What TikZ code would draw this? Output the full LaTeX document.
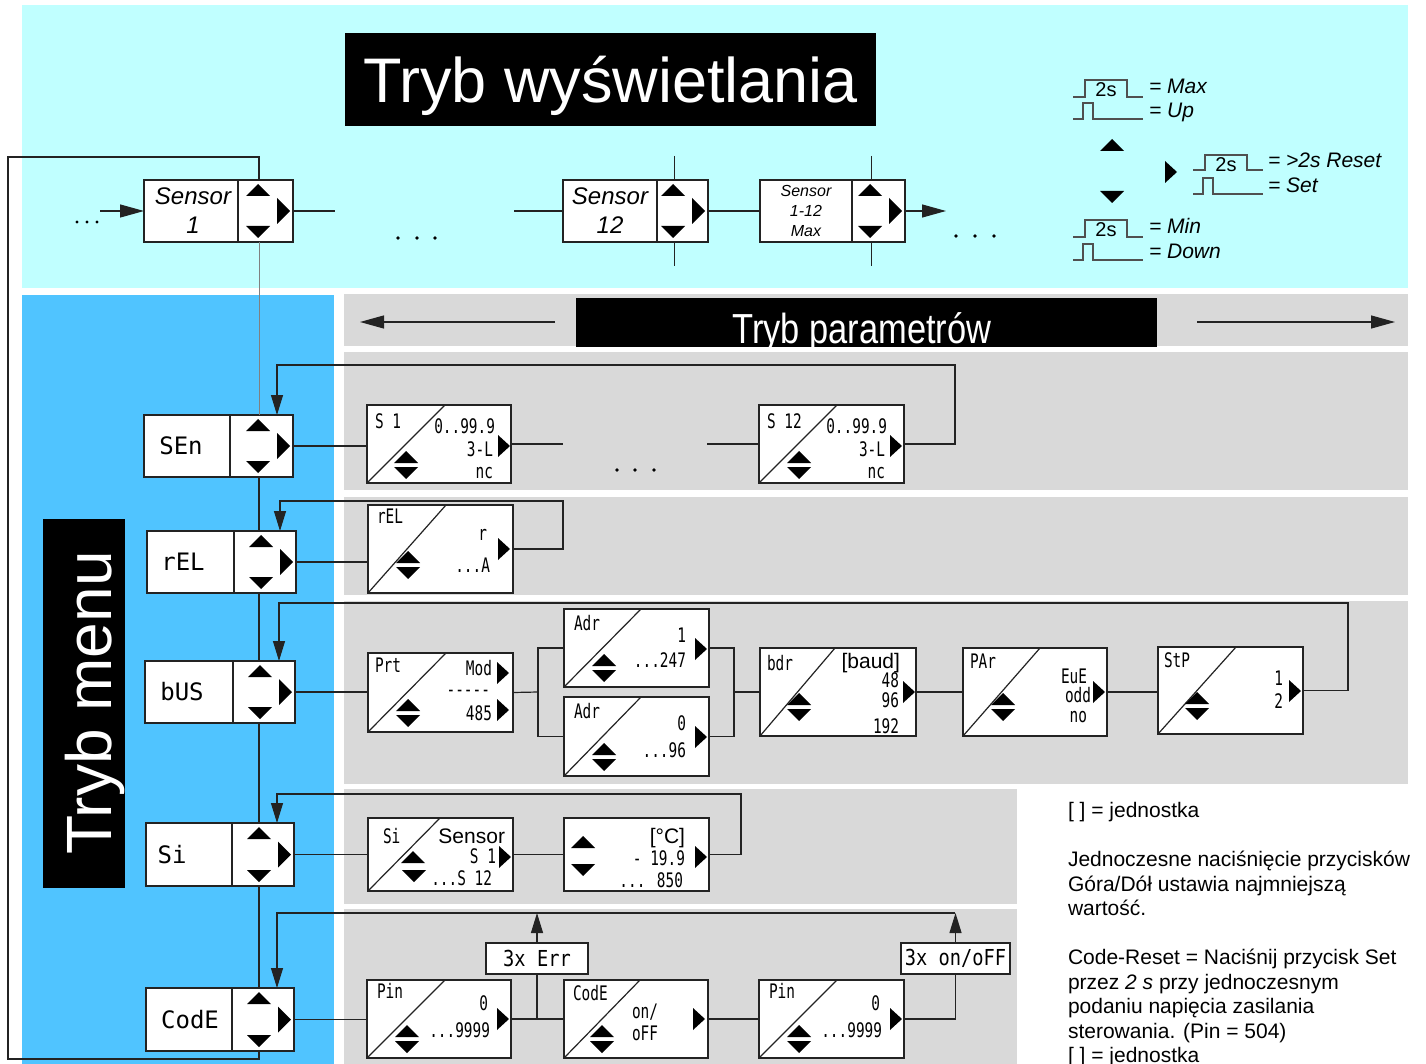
\documentclass[tikz,border=0pt]{standalone}
\usepackage{fontspec}
\setmainfont{Liberation Sans}
\newfontfamily\segf{DejaVu Sans Mono}
\usetikzlibrary{arrows.meta}
\definecolor{cyanbg}{RGB}{192,255,255}
\definecolor{bluebg}{RGB}{80,196,255}
\definecolor{graybg}{RGB}{217,217,217}
\definecolor{lnc}{RGB}{35,35,35}
\definecolor{wavec}{RGB}{80,80,80}
\newcommand\fs[1]{\fontsize{#1}{#1}\selectfont}
\newcommand\sg[2][20]{\scalebox{0.72}[1]{\segf\fontsize{#1}{#1}\selectfont #2}}
\tikzset{
 ln/.style={draw=lnc, line width=1.2pt},
 arr/.style={ln, -{Triangle[length=20pt,width=12pt]}},
 arrT/.style={ln, -{Triangle[length=24pt,width=13pt]}},
 boxs/.style={draw=lnc, fill=white, line width=1.5pt, inner sep=0pt, outer sep=0pt},
 seg/.style={inner sep=0pt, outer sep=0pt},
 wave/.style={draw=wavec, line width=1.2pt},
}
\newcommand\Tup[2]{\fill[black] ({#1-12},{#2+12}) -- ({#1+12},{#2+12}) -- ({#1},{#2}) -- cycle;}
\newcommand\Tdn[2]{\fill[black] ({#1-12},{#2-12}) -- ({#1+12},{#2-12}) -- ({#1},{#2}) -- cycle;}
\newcommand\Trt[2]{\fill[black] ({#1-13},{#2-13}) -- ({#1-13},{#2+13}) -- ({#1},{#2}) -- cycle;}
\newcommand\Trs[2]{\fill[black] ({#1-12},{#2-11}) -- ({#1-12},{#2+11}) -- ({#1},{#2}) -- cycle;}
\newcommand\Tud[2]{\fill[black] ({#1-12},{#2-2}) -- ({#1+12},{#2-2}) -- ({#1},{#2-14}) -- cycle;
 \fill[black] ({#1-12},{#2+2}) -- ({#1+12},{#2+2}) -- ({#1},{#2+14}) -- cycle;}
\newcommand\MenuBx[9]{%
 \node[boxs, anchor=north west, minimum width={(#4-#2)*1pt}, minimum height={(#5-#3)*1pt}] (#1) at (#2,#3) {};
 \draw[draw=lnc, line width=1.3pt] (#6,#3) -- (#6,#5);
 \Tup{#4-35}{#3+4}
 \Tdn{#4-35}{#5-4}
 \Trt{#4-3}{(#3+#5)/2}
 \node[seg, align=center, font=#8] (#1-l) at (#7,{(#3+#5)/2}) {#9};
}
\newcommand\ParBx[6]{%
 \node[boxs, anchor=north west, minimum width={(#4-#2)*1pt}, minimum height={(#5-#3)*1pt}] (#1) at (#2,#3) {};
 \ifnum#6>0 \draw[draw=lnc, line width=1.2pt] (#2,#5) -- (#6,#3);\fi
}
\newcommand\Tx[5]{\node[seg, anchor=#2] (#1) at (#3,#4) {#5};}
\newcommand\WL[3]{\draw[wave] (#1,#2) -- ({#1+12},#2) -- ({#1+12},#3) -- ({#1+54},#3) -- ({#1+54},#2) -- ({#1+70},#2);}
\newcommand\WS[3]{\draw[wave] (#1,#2) -- ({#1+10},#2) -- ({#1+10},#3) -- ({#1+20},#3) -- ({#1+20},#2) -- ({#1+70},#2);}

\begin{document}
\begin{tikzpicture}[x=1pt,y=-1pt]
\useasboundingbox (0,0) rectangle (1426,1064);
\fill[white] (0,0) rectangle (1426,1064);
% backgrounds
\fill[cyanbg] (22,5) rectangle (1408,288);
\fill[bluebg] (22,295) rectangle (334,1064);
\fill[graybg] (344,294) rectangle (1408,346);
\fill[graybg] (344,352) rectangle (1408,490);
\fill[graybg] (344,497) rectangle (1408,595);
\fill[graybg] (344,601) rectangle (1408,784);
\fill[graybg] (344,789) rectangle (1017,904);
\fill[graybg] (344,909) rectangle (1017,1064);

% titles
\node[fill=black, text=white, anchor=north west, minimum width=531pt, minimum height=93pt, inner sep=0pt, text height=45pt, text depth=0pt, font=\fs{63}] (title) at (345,33) {Tryb wyświetlania};
\node[fill=black, anchor=north west, minimum width=82pt, minimum height=369pt, inner sep=0pt] (tmbox) at (43,519) {};
\node[text=white, rotate=90, anchor=base, font=\fs{64}, inner sep=0pt] (tm) at (111,703) {Tryb menu};
\node[fill=black, anchor=north west, minimum width=581pt, minimum height=49pt, inner sep=0pt] (tpbox) at (576,298) {};
\begin{scope}
\clip (576,298) rectangle (1157,347);
\node[seg, anchor=base, text=white] (tp) at (862,343) {\scalebox{0.82}[1]{\fs{42}Tryb parametrów}};
\end{scope}
\coordinate (la1) at (555,322); \coordinate (la2) at (360,322);
\draw[arrT] (la1) -- (la2);
\coordinate (ra1) at (1197,322); \coordinate (ra2) at (1395,322);
\draw[arrT] (ra1) -- (ra2);

% vertical navigation lines through top boxes
\coordinate (v1a) at (674,156); \coordinate (v1b) at (674,266);
\coordinate (v2a) at (871,156); \coordinate (v2b) at (871,266);
\draw[ln, line width=1pt] (v1a) -- (v1b);
\draw[ln, line width=1pt] (v2a) -- (v2b);

% top row boxes
\MenuBx{s1top}{144}{180}{293}{242}{238}{193}{\itshape\fontsize{24}{29}\selectfont}{Sensor\\1}
\MenuBx{s12top}{563}{180}{708}{242}{657}{610}{\itshape\fontsize{24}{29}\selectfont}{Sensor\\12}
\MenuBx{smax}{760}{180}{905}{242}{852}{806}{\itshape\fontsize{16}{20}\selectfont}{Sensor\\1-12\\Max}

\coordinate (in0) at (100,211);
\draw[arrT] (in0) -- (s1top.west);
\coordinate (o1) at (335,211);
\draw[ln] (s1top.east) -- (o1);
\coordinate (o2) at (514,211);
\draw[ln] (o2) -- (s12top.west);
\draw[ln] (s12top.east) -- (smax.west);
\coordinate (o3) at (946,211);
\draw[arrT] (smax.east) -- (o3);
\foreach \x in {77,87,97} \fill (\x,222) circle (1.7);
\foreach \x in {398,417,435} \fill (\x,238) circle (1.8);
\foreach \x in {956,975,994} \fill (\x,236) circle (1.8);

% legend
\WL{1073}{97}{80}
\node[seg, font=\fs{20}] (lg1) at (1106,90) {2s};
\WS{1073}{119}{103}
\Tx{lt1}{base west}{1149}{94}{\itshape\fs{21}= Max}
\Tx{lt2}{base west}{1149}{118}{\itshape\fs{21}= Up}
\Tup{1112}{139}
\Tdn{1112}{203}
\Trs{1177}{172}
\WL{1193}{170}{155}
\node[seg, font=\fs{20}] (lg2) at (1226,165) {2s};
\WS{1193}{194}{178}
\Tx{lt3}{base west}{1268}{168}{\itshape\fs{21}= >2s Reset}
\Tx{lt4}{base west}{1268}{193}{\itshape\fs{21}= Set}
\WL{1073}{237}{220}
\node[seg, font=\fs{20}] (lg3) at (1106,230) {2s};
\WS{1073}{260}{244}
\Tx{lt5}{base west}{1149}{234}{\itshape\fs{21}= Min}
\Tx{lt6}{base west}{1149}{259}{\itshape\fs{21}= Down}

% menu boxes
\MenuBx{sen}{144}{415}{293}{477}{230}{181}{\segf\fs{24}}{SEn}
\MenuBx{rel}{147}{531}{296}{593}{234}{183}{\segf\fs{24}}{rEL}
\MenuBx{bus}{145}{661}{295}{723}{233}{182}{\segf\fs{24}}{bUS}
\MenuBx{si}{146}{823}{294}{886}{232}{172}{\segf\fs{24}}{Si}
\MenuBx{code}{146}{988}{294}{1051}{232}{190}{\segf\fs{24}}{CodE}

% spine and outer loop
\coordinate (spx) at (259,0);
\draw[draw=gray, line width=0.9pt] (s1top.south -| spx) -- (sen.north -| spx);
\draw[ln] (sen.south -| spx) -- (rel.north -| spx);
\draw[ln] (rel.south -| spx) -- (bus.north -| spx);
\draw[ln] (bus.south -| spx) -- (si.north -| spx);
\draw[ln] (si.south -| spx) -- (code.north -| spx);
\coordinate (lp1) at (8,1059); \coordinate (lp2) at (8,157);
\draw[ln] (code.south -| spx) -- (lp1 -| spx) -- (lp1) -- (lp2) -- (lp2 -| spx) -- (s1top.north -| spx);

% parameter boxes
\ParBx{ps1}{367}{405}{511}{483}{445}
\ParBx{ps12}{759}{405}{904}{483}{837}
\ParBx{prel}{368}{505}{513}{593}{446}
\ParBx{pprt}{368}{653}{513}{732}{446}
\ParBx{padra}{564}{609}{709}{687}{641}
\ParBx{padrb}{564}{697}{709}{776}{641}
\ParBx{pbdr}{760}{648}{916}{736}{835}
\ParBx{ppar}{963}{648}{1107}{736}{1040}
\ParBx{pstp}{1158}{647}{1303}{734}{1236}
\ParBx{psi}{368}{818}{513}{891}{440}
\ParBx{pc}{564}{818}{709}{891}{0}
\ParBx{ppina}{367}{980}{511}{1058}{445}
\ParBx{pcode}{564}{980}{708}{1058}{640}
\ParBx{ppinb}{759}{980}{904}{1058}{837}
\node[boxs, line width=1.2pt, minimum width=102pt, minimum height=31pt] (berr) at (537,958.5) {\scalebox{0.85}[1]{\segf\fs{22}3x Err}};
\node[boxs, line width=1.2pt, minimum width=109pt, minimum height=31pt] (bonoff) at (955.5,958.5) {\scalebox{0.85}[1]{\segf\fs{22}3x on/oFF}};

% row connectors
\draw[ln] (sen.east) -- (sen.east -| ps1.west);
\coordinate (d1) at (563,444); \draw[ln] (ps1.east) -- (d1);
\coordinate (d2) at (707,444); \draw[ln] (d2) -- (ps12.west);
\foreach \x in {617,635,654} \fill (\x,470) circle (1.8);
\draw[ln] (rel.east) -- (rel.east -| prel.west);
\draw[ln] (bus.east) -- (bus.east -| pprt.west);
\coordinate (j1) at (538,692);
\draw[ln] (pprt.east) -- (j1);
\draw[ln] (padra.west) -| (j1) |- (padrb.west);
\coordinate (j2) at (734,692);
\draw[ln] (padra.east) -| (j2) |- (padrb.east);
\draw[ln] (j2) -- (j2 -| pbdr.west);
\draw[ln] (pbdr.east) -- (pbdr.east -| ppar.west);
\draw[ln] (ppar.east) -- (ppar.east -| pstp.west);
\draw[ln] (si.east) -- (si.east -| psi.west);
\draw[ln] (psi.east) -- (psi.east -| pc.west);
\draw[ln] (code.east) -- (code.east -| ppina.west);
\draw[ln] (ppina.east) -- (ppina.east -| pcode.west);
\coordinate (j3) at (537,1019);
\draw[ln] (j3) -- (j3 |- berr.south);
\draw[ln] (pcode.east) -- (pcode.east -| ppinb.west);
\draw[ln] (ppinb.east) -| (bonoff.south);

% loops back to menu
\coordinate (axA) at (277,0); \coordinate (axB) at (280,0); \coordinate (axC) at (279,0);
\coordinate (lpA) at (955,365);
\draw[arr] (ps12.east) -| (lpA) -| (sen.north -| axA);
\coordinate (lpB) at (563,501);
\draw[arr] (prel.east) -| (lpB) -| (rel.north -| axB);
\coordinate (lpC) at (1348,603);
\draw[arr] (pstp.east) -| (lpC) -| (bus.north -| axC);
\coordinate (lpD) at (741,794);
\draw[arr] (pc.east) -| (lpD) -| (si.north -| axA);
\coordinate (lpE) at (955,913);
\draw[arr] (bonoff.north) -- (bonoff.north |- lpE);
\draw[arr] (berr.north) -- (berr.north |- lpE);
\draw[arr] (lpE) -| (code.north -| axA);

% texts in parameter boxes
\Tx{s1a}{base west}{375}{428}{\sg{S 1}}
\Tx{s1b}{base east}{495}{433}{\sg{0..99.9}}
\Tx{s1c}{base east}{493}{456}{\sg{3-L}}
\Tx{s1d}{base east}{493}{478}{\sg{nc}}
\Tud{406}{465} \Trs{510}{446}
\Tx{s12a}{base west}{767}{428}{\sg{S 12}}
\Tx{s12b}{base east}{887}{433}{\sg{0..99.9}}
\Tx{s12c}{base east}{885}{456}{\sg{3-L}}
\Tx{s12d}{base east}{885}{478}{\sg{nc}}
\Tud{799}{465} \Trs{902}{446}
\Tx{ra}{base west}{377}{523}{\sg{rEL}}
\Tx{rb}{base east}{487}{540}{\sg{r}}
\Tx{rc}{base east}{490}{572}{\sg{...A}}
\Tud{408}{565} \Trs{510}{549}
\Tx{pa}{base west}{375}{672}{\sg{Prt}}
\Tx{pb}{base east}{492}{675}{\sg{Mod}}
\Tx{pc2}{base east}{490}{696}{\sg{-----}}
\Tx{pd}{base east}{492}{720}{\sg{485}}
\Tud{408}{713} \Trs{509}{673} \Trs{509}{710}
\Tx{aa}{base west}{574}{630}{\sg{Adr}}
\Tx{ab}{base east}{686}{642}{\sg{1}}
\Tx{ac}{base east}{686}{667}{\sg{...247}}
\Tud{604}{668} \Trs{707}{649}
\Tx{ba}{base west}{574}{718}{\sg{Adr}}
\Tx{bb}{base east}{686}{730}{\sg{0}}
\Tx{bc}{base east}{686}{757}{\sg{...96}}
\Tud{604}{757} \Trs{707}{737}
\Tx{ca}{base west}{767}{670}{\sg{bdr}}
\Tx{cb}{base east}{900}{668}{\fs{21}[baud]}
\Tx{cc}{base east}{899}{687}{\sg{48}}
\Tx{cd}{base east}{899}{707}{\sg{96}}
\Tx{ce}{base east}{899}{733}{\sg{192}}
\Tud{799}{707} \Trs{915}{692}
\Tx{da}{base west}{970}{668}{\sg{PAr}}
\Tx{db}{base east}{1087}{683}{\sg{EuE}}
\Tx{dc}{base east}{1091}{702}{\sg{odd}}
\Tx{dd}{base east}{1087}{722}{\sg{no}}
\Tud{1003}{707} \Trs{1105}{692}
\Tx{ea}{base west}{1164}{667}{\sg{StP}}
\Tx{eb}{base east}{1283}{685}{\sg{1}}
\Tx{ec}{base east}{1283}{708}{\sg{2}}
\Tud{1197}{706} \Trs{1301}{691}
\Tx{fa}{base west}{383}{843}{\sg{Si}}
\Tx{fb}{base east}{505}{843}{\fs{21}Sensor}
\Tx{fc}{base east}{496}{863}{\sg{S 1}}
\Tx{fd}{base east}{492}{885}{\sg{...S 12}}
\Tup{413}{851} \Tdn{414}{882} \Trs{511}{857}
\Tup{583}{836} \Tdn{583}{876}
\Tx{ga}{base east}{685}{843}{\fs{21}[°C]}
\Tx{gb}{base east}{685}{865}{\sg{- 19.9}}
\Tx{gc}{base east}{683}{887}{\sg{... 850}}
\Trs{707}{857}
\Tx{ha}{base west}{377}{998}{\sg{Pin}}
\Tx{hb}{base east}{488}{1010}{\sg{0}}
\Tx{hc}{base east}{490}{1037}{\sg{...9999}}
\Tud{407}{1039} \Trs{509}{1019}
\Tx{ia}{base west}{573}{1000}{\sg{CodE}}
\Tx{ib}{base west}{632}{1018}{\sg{on/}}
\Tx{ic}{base west}{632}{1040}{\sg{oFF}}
\Tud{602}{1039} \Trs{705}{1019}
\Tx{ka}{base west}{769}{998}{\sg{Pin}}
\Tx{kb}{base east}{880}{1010}{\sg{0}}
\Tx{kc}{base east}{882}{1037}{\sg{...9999}}
\Tud{799}{1039} \Trs{902}{1019}

% notes
\Tx{n1}{base west}{1068}{817}{\fs{21}[ ] = jednostka}
\Tx{n2}{base west}{1068}{866}{\fs{21}Jednoczesne naciśnięcie przycisków}
\Tx{n3}{base west}{1068}{891}{\fs{21}Góra/Dół ustawia najmniejszą}
\Tx{n4}{base west}{1068}{915}{\fs{21}wartość.}
\Tx{n5}{base west}{1068}{964}{\fs{21}Code-Reset = Naciśnij przycisk Set}
\Tx{n6}{base west}{1068}{989}{\fs{21}przez \textit{2 s} przy jednoczesnym}
\Tx{n7}{base west}{1068}{1013}{\fs{21}podaniu napięcia zasilania}
\Tx{n8}{base west}{1068}{1038}{\fs{21}sterowania. (Pin = 504)}
\Tx{n9}{base west}{1068}{1062}{\fs{21}[ ] = jednostka}
\end{tikzpicture}
\end{document}
